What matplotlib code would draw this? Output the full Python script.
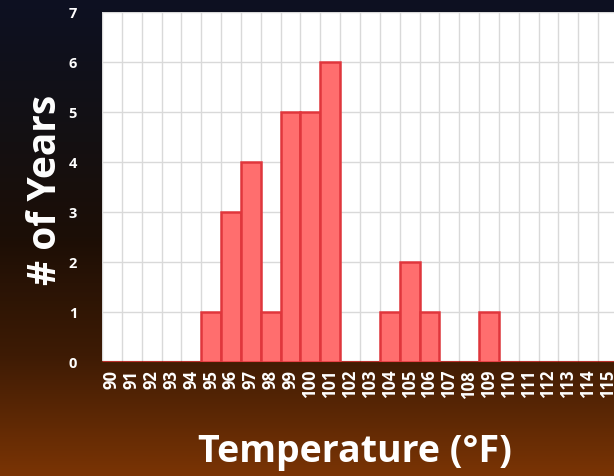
import numpy as np
import matplotlib
matplotlib.use("Agg")
import matplotlib.pyplot as plt
from matplotlib.colors import LinearSegmentedColormap

# temperature bins and how many years hit each one
temps = list(range(90, 116))
years = [0, 0, 0, 0, 0, 1, 3, 4, 1, 5, 5, 6, 0, 0, 1, 2, 1, 0, 0, 1,
         0, 0, 0, 0, 0, 0]
y_ticks = [0, 1, 2, 3, 4, 5, 6, 7]

plt.rcParams['font.family'] = ['Open Sans', 'DejaVu Sans']

fig = plt.figure(figsize=(6.14, 4.77), dpi=100)

# background gradient, navy at the top into brown at the bottom
bg = fig.add_axes([0, 0, 1, 1], zorder=-10)
cmap = LinearSegmentedColormap.from_list('bg', [
    (0.0, '#0D1122'), (0.3, '#141012'), (0.5, '#1C0E06'),
    (0.75, '#3E1B04'), (1.0, '#7A3404')])
grad = np.linspace(0, 1, 256).reshape(-1, 1)
bg.imshow(grad, aspect='auto', cmap=cmap, extent=[0, 1, 1, 0])
bg.axis('off')

ax = fig.add_axes([102/614, 1 - 363/477, 1 - 102/614, 350/477])
ax.set_facecolor('white')
x = np.arange(len(temps))
ax.bar(x, years, width=1.0, color='#FF6E6E', edgecolor='#E0363C',
       linewidth=1.8, zorder=3)

ax.set_xlim(-0.5, 25.3)
ax.set_ylim(0, 7)
ax.set_yticks(y_ticks)
ax.set_xticks(x)
ax.set_xticks(x - 0.5, minor=True)
ax.set_xticklabels([str(t) for t in temps], rotation=90, color='white',
                   fontsize=12, fontweight='bold')
ax.set_yticklabels([str(t) for t in y_ticks], color='white', fontsize=10.5,
                   fontweight='bold')
ax.tick_params(axis='both', which='both', length=0)
ax.tick_params(axis='y', pad=18)
ax.tick_params(axis='x', pad=5)
ax.grid(True, axis='y', color='#D9D9D9', linewidth=1, zorder=0)
ax.grid(True, axis='x', which='minor', color='#D9D9D9', linewidth=1, zorder=0)
for s in ['top', 'right', 'left']:
    ax.spines[s].set_visible(False)
ax.spines['bottom'].set_color('#4A1E02')
ax.spines['bottom'].set_linewidth(1.5)

fig.text(46/614, 1 - 190/477, '# of Years', rotation=90, color='white',
         fontsize=28, fontweight='bold', ha='center', va='center')
fig.text(355/614, 1 - 452/477, 'Temperature (°F)', color='white',
         fontsize=27, fontweight='bold', ha='center', va='center')

fig.savefig('out.png', dpi=100)
